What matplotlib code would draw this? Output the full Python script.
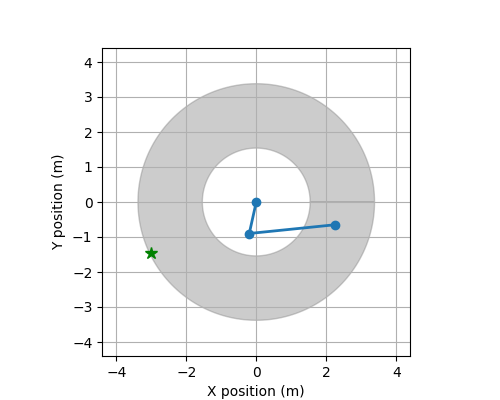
import numpy as np
import matplotlib
matplotlib.use("Agg")
import matplotlib.pyplot as plt

# arm geometry
link_lengths = [0.92, 2.46]
joint_x = [0.0, -0.2, 2.25]
joint_y = [0.0, -0.9, -0.65]
target_x = [-3.0]
target_y = [-1.45]

r_out = link_lengths[0] + link_lengths[1]
r_in = link_lengths[1] - link_lengths[0]

fig, ax = plt.subplots(figsize=(5, 4), dpi=100)

# reachable workspace (annulus)
t = np.linspace(0, 2 * np.pi, 200)
xs = np.concatenate([r_out * np.cos(t), r_in * np.cos(t[::-1])])
ys = np.concatenate([r_out * np.sin(t), r_in * np.sin(t[::-1])])
ax.fill(xs, ys, color="gray", alpha=0.4)

ax.plot(joint_x, joint_y, "-o", color="tab:blue", linewidth=2, markersize=6)
ax.plot(target_x, target_y, "*", color="green", markersize=9)

ax.set_xlim(-4.4, 4.4)
ax.set_ylim(-4.4, 4.4)
ax.set_aspect("equal")
ax.set_xticks([-4, -2, 0, 2, 4])
ax.set_yticks(range(-4, 5))
ax.grid(True)
ax.set_xlabel("X position (m)")
ax.set_ylabel("Y position (m)")

fig.savefig("out.png")
